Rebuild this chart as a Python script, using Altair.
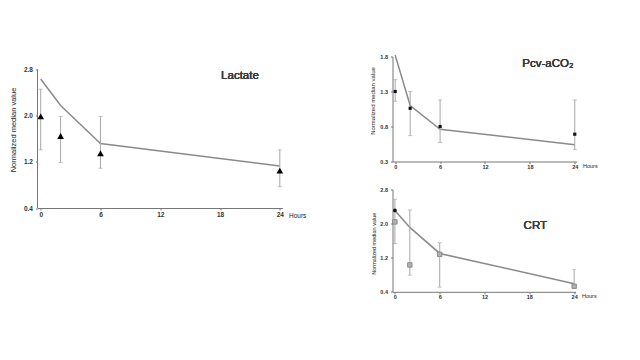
import altair as alt
import pandas as pd

hours = [0, 2, 6, 24]
x_ticks = [0, 6, 12, 18, 24]

# Lactate
lac_line = [2.64, 2.18, 1.52, 1.13]
lac_med = [1.99, 1.65, 1.35, 1.05]
lac_lo = [1.41, 1.19, 1.09, 0.77]
lac_hi = [2.46, 1.99, 1.99, 1.41]
lac_ticks = [0.4, 1.2, 2.0, 2.8]

# Pcv-aCO2
pcv_line = [1.82, 1.10, 0.76, 0.54]
pcv_med = [1.30, 1.06, 0.80, 0.69]
pcv_lo = [1.16, 0.67, 0.57, 0.47]
pcv_hi = [1.47, 1.30, 1.18, 1.18]
pcv_ticks = [0.3, 0.8, 1.3, 1.8]

# CRT
crt_line = [2.31, 1.91, 1.30, 0.59]
crt_med = [2.04, 1.03, 1.28, 0.53]
crt_lo = [1.53, 0.79, 0.51, 0.53]
crt_hi = [2.57, 2.32, 1.55, 0.92]
crt_ticks = [0.4, 1.2, 2.0, 2.8]

FONT = "Liberation Sans"
LINE_C = "#8a8a8a"
ERR_C = "#a8a8a8"
YTITLE = "Normalized median value"


def panel(name, line, med, lo, hi, yticks, ydom, xdom, w, h, lab_size, ttl_size,
          ttl_x, ttl_y, hours_y, label_xy, marker, axis_rule=False, first_dot=False):
    df = pd.DataFrame({"t": hours, "line": line, "med": med, "lo": lo, "hi": hi})
    base = alt.Chart(df)
    xa = alt.Axis(values=x_ticks, title="Hours", titleX=w + 6, titleY=hours_y,
                  titleAlign="left", titleBaseline="middle", titleAngle=0,
                  labelFontSize=lab_size, titleFontSize=lab_size, grid=False,
                  titleFontWeight="normal", labelPadding=1, tickSize=2)
    ya = alt.Axis(values=yticks, title=YTITLE, titleX=ttl_x, titleY=ttl_y,
                  titleAngle=-90, titleAlign="center", titleBaseline="middle",
                  labelFontSize=lab_size, titleFontSize=ttl_size, grid=False,
                  titleFontWeight="normal", labelPadding=3, tickSize=2,
                  labelOverlap=False, domain=not axis_rule)
    xs = alt.Scale(domain=xdom, nice=False, zero=False)
    ys = alt.Scale(domain=ydom, nice=False, zero=False)
    X = alt.X("t:Q", scale=xs, axis=xa)

    lay = [
        base.mark_line(color=LINE_C, strokeWidth=1.5).encode(
            x=X, y=alt.Y("line:Q", scale=ys, axis=ya)),
        base.mark_rule(color=ERR_C, strokeWidth=1).encode(
            x=X, y=alt.Y("lo:Q", scale=ys, axis=ya), y2="hi:Q"),
        base.mark_tick(color=ERR_C, orient="horizontal", size=4, thickness=1).encode(
            x=X, y=alt.Y("lo:Q", scale=ys, axis=ya)),
        base.mark_tick(color=ERR_C, orient="horizontal", size=4, thickness=1).encode(
            x=X, y=alt.Y("hi:Q", scale=ys, axis=ya)),
    ]
    lay.append(base.mark_point(**marker).encode(
        x=X, y=alt.Y("med:Q", scale=ys, axis=ya)))
    if first_dot:
        dot = pd.DataFrame({"t": hours[:1], "line": line[:1]})
        lay.append(alt.Chart(dot).mark_point(shape="circle", filled=True, size=14,
                                             color="#111", opacity=1).encode(
            x=X, y=alt.Y("line:Q", scale=ys, axis=ya)))
    if axis_rule:
        lay.append(base.mark_rule(color="#777", strokeWidth=1).encode(
            x=alt.value(0), y=alt.datum(yticks[0], scale=ys, axis=ya),
            y2=alt.datum(yticks[-1])))
    lay.append(base.mark_text(font=FONT, fontSize=11.5, fontWeight=400, color="#3a3a3a",
                              align="center", baseline="middle").encode(
        x=alt.datum(label_xy[0], scale=xs, axis=xa),
        y=alt.datum(label_xy[1], scale=ys, axis=ya), text=alt.value(name)))
    return alt.layer(*lay).properties(width=w, height=h)


left = panel("Lactate", lac_line, lac_med, lac_lo, lac_hi, lac_ticks,
             [0.4, 3.03], [-0.32, 24.27], 245, 151.5, 6.5, 7.5,
             -24, 73, 7, (20.0, 2.70),
             dict(shape="triangle-up", filled=True, size=45, color="#000", opacity=1),
             axis_rule=True)

top = panel("Pcv-aCO₂", pcv_line, pcv_med, pcv_lo, pcv_hi, pcv_ticks,
            [0.3, 1.8], [-0.36, 24.23], 184, 105, 5.5, 6,
            -20, 44, 3.5, (20.4, 1.70),
            dict(shape="square", filled=True, size=10, color="#111", opacity=1))

bottom = panel("CRT", crt_line, crt_med, crt_lo, crt_hi, crt_ticks,
               [0.4, 2.8], [-0.32, 24.18], 183, 102.3, 5.5, 5.5,
               -19.5, 53.7, 3.5, (18.8, 1.94),
               dict(shape="square", filled=True, size=20, color="#b0b0b0",
                    stroke="#808080", strokeWidth=0.8, opacity=1),
               first_dot=True)

right = alt.vconcat(top, bottom, spacing=17)

chart = alt.hconcat(left, right, spacing=63).properties(
    padding={"left": 1.5, "top": 43.5, "right": 0, "bottom": 0},
    background="white"
).configure_view(strokeWidth=0, stroke="transparent").configure_axis(
    labelFont=FONT, titleFont=FONT, labelFontWeight="bold", labelColor="#333",
    titleColor="#222", domainColor="#777", tickColor="#777", grid=False,
    labelFlush=False
)

chart.save("out.html", embed_options={"renderer": "svg", "actions": False})
